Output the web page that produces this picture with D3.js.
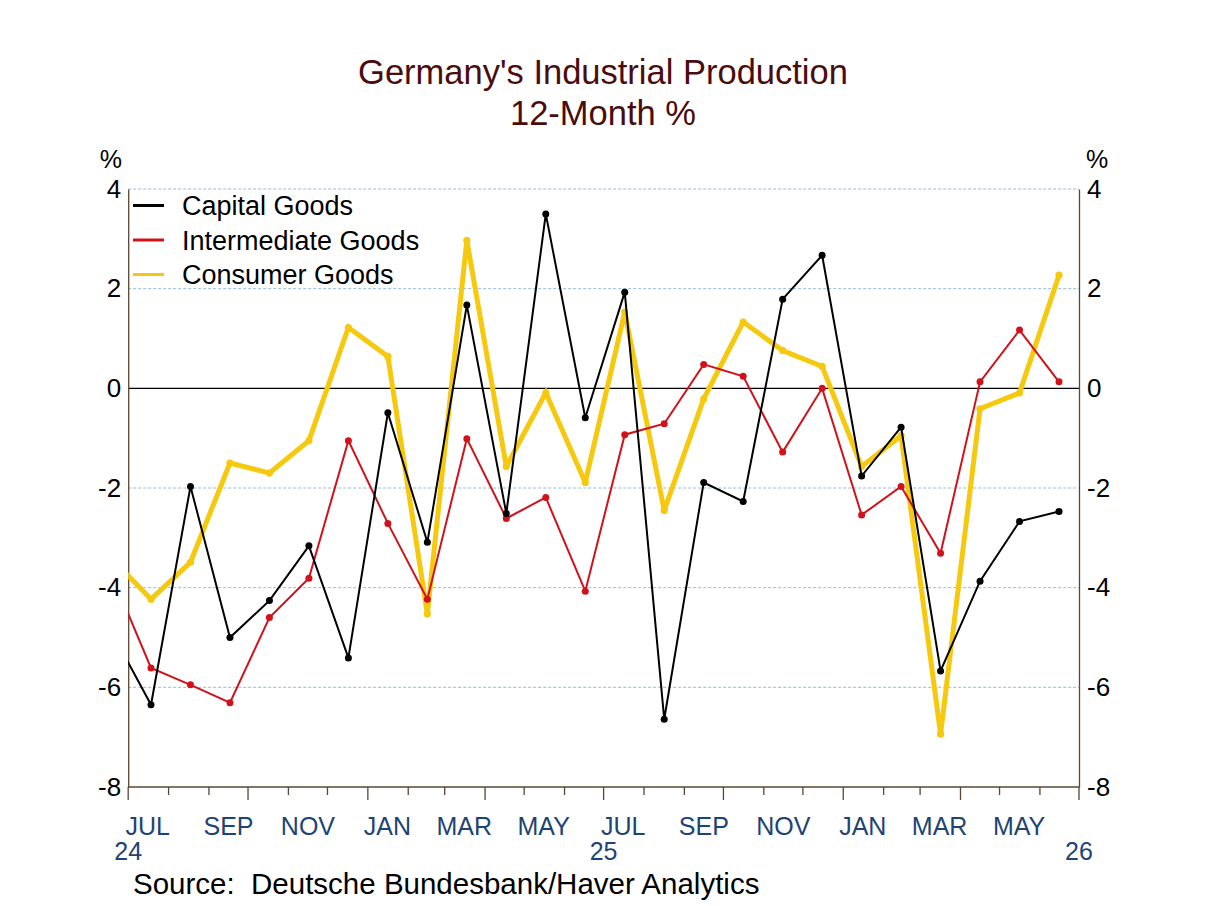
<!DOCTYPE html>
<html>
<head>
<meta charset="utf-8">
<script src="https://cdn.jsdelivr.net/npm/d3@7/dist/d3.min.js"></script>
<style>
  html, body { margin: 0; padding: 0; background: #fff; }
  svg { display: block; font-family: "Liberation Sans", Arial, sans-serif; }
</style>
</head>
<body>
<svg id="chart" width="1208" height="906"></svg>
<script>
// ---- data ----
const months = ["2024-06","2024-07","2024-08","2024-09","2024-10","2024-11","2024-12",
  "2025-01","2025-02","2025-03","2025-04","2025-05","2025-06","2025-07","2025-08","2025-09","2025-10","2025-11","2025-12",
  "2026-01","2026-02","2026-03","2026-04","2026-05","2026-06"];
const capitalGoods = [-4.88, -6.35, -1.97, -5.00, -4.26, -3.16, -5.41,
  -0.49, -3.09, 1.67, -2.51, 3.50, -0.59, 1.93, -6.64, -1.89, -2.27, 1.79, 2.67,
  -1.76, -0.78, -5.67, -3.87, -2.67, -2.47];
const intermediateGoods = [-3.73, -5.61, -5.95, -6.31, -4.60, -3.81, -1.05,
  -2.71, -4.23, -1.01, -2.61, -2.19, -4.07, -0.93, -0.71, 0.48, 0.24, -1.28, 0.00,
  -2.54, -1.97, -3.31, 0.13, 1.17, 0.13];
const consumerGoods = [-3.41, -4.23, -3.49, -1.50, -1.70, -1.05, 1.22,
  0.64, -4.53, 2.97, -1.57, -0.09, -1.89, 1.53, -2.45, -0.21, 1.33, 0.76, 0.44,
  -1.57, -0.95, -6.94, -0.41, -0.09, 2.27];
const seriesNames = ["Capital Goods", "Intermediate Goods", "Consumer Goods"];
const seriesColors = ["#000000", "#d0121b", "#f6c90e"];
const yTicks = [4, 2, 0, -2, -4, -6, -8];
const monthLabels = ["JAN","FEB","MAR","APR","MAY","JUN","JUL","AUG","SEP","OCT","NOV","DEC"];
const yearLabels = ["24", "25", "26"];
const titleLines = ["Germany's Industrial Production", "12-Month %"];
const sourceText = "Source:  Deutsche Bundesbank/Haver Analytics";

// ---- layout ----
const svg = d3.select("#chart");
const L = 128.2, R = 1079, T = 189, B = 787;
const x = d3.scaleUtc().domain([new Date(Date.UTC(2024, 6, 1)), new Date(Date.UTC(2026, 6, 1))]).range([L, R]);
// observation positions: evenly spaced, one per month (index 0 = Jul 2024)
const xObs = d3.scaleLinear().domain([0, 23]).range([151, 1059]);
const monthIndex = s => { const [yy, mm] = s.split("-").map(Number); return (yy - 2024) * 12 + (mm - 7); };
const y = d3.scaleLinear().domain([-8, 4]).range([B, T]);
const axisColor = "#5a4632";
const labelBlue = "#1d4473";

// title
svg.append("g").selectAll("text").data(titleLines).join("text")
  .attr("x", 603).attr("y", (d, i) => 84 + i * 41)
  .attr("text-anchor", "middle").attr("font-size", 34.5).attr("fill", "#4a0c0c")
  .text(d => d);

// gridlines
svg.append("g").selectAll("line").data(yTicks.filter(v => v !== 0 && v !== -8)).join("line")
  .attr("x1", L).attr("x2", R).attr("y1", d => y(d)).attr("y2", d => y(d))
  .attr("stroke", "#93bccf").attr("stroke-width", 1).attr("stroke-dasharray", "3,2");

// zero line
svg.append("line").attr("x1", L).attr("x2", R).attr("y1", y(0)).attr("y2", y(0))
  .attr("stroke", "#000").attr("stroke-width", 1.2);

// y axes
const fmt = d => String(d);
const yAxisL = d3.axisLeft(y).tickValues(yTicks).tickSize(0).tickPadding(7).tickFormat(fmt);
const gL = svg.append("g").attr("transform", `translate(${L},0)`).call(yAxisL);
const yAxisR = d3.axisRight(y).tickValues(yTicks).tickSize(0).tickPadding(8).tickFormat(fmt);
const gR = svg.append("g").attr("transform", `translate(${R},0)`).call(yAxisR);
[gL, gR].forEach(g => {
  g.select(".domain").attr("stroke", axisColor).attr("stroke-width", 1.3);
  g.selectAll("text").attr("font-size", 26).attr("fill", "#000").attr("font-family", "Liberation Sans, Arial, sans-serif");
});
svg.append("text").attr("x", 122).attr("y", 168).attr("text-anchor", "end").attr("font-size", 25).text("%");
svg.append("text").attr("x", 1086).attr("y", 168).attr("text-anchor", "start").attr("font-size", 25).text("%");

// x axis
const monthTicks = d3.utcMonth.range(x.domain()[0], d3.utcDay.offset(x.domain()[1], 1));
const gx = svg.append("g");
gx.append("line").attr("x1", L).attr("x2", R).attr("y1", B).attr("y2", B).attr("stroke", axisColor).attr("stroke-width", 1.3);
gx.selectAll("line.tick").data(monthTicks).join("line").attr("class", "tick")
  .attr("x1", d => x(d)).attr("x2", d => x(d)).attr("y1", B)
  .attr("y2", d => B + (d.getUTCMonth() % 3 === 0 ? 13 : 8))
  .attr("stroke", axisColor).attr("stroke-width", 1.3);
const labelMonths = monthTicks.filter(d => d < x.domain()[1] && d.getUTCMonth() % 2 === 0);
gx.selectAll("text.mlab").data(labelMonths).join("text").attr("class", "mlab")
  .attr("x", d => x(d3.utcDay.offset(d, 15))).attr("y", 835)
  .attr("text-anchor", "middle").attr("font-size", 25).attr("fill", labelBlue)
  .text(d => monthLabels[d.getUTCMonth()]);
const yearDates = yearLabels.map(s => new Date(Date.UTC(2000 + +s, 6, 1)));
gx.selectAll("text.ylab").data(yearDates).join("text").attr("class", "ylab")
  .attr("x", d => x(d)).attr("y", 860)
  .attr("text-anchor", "middle").attr("font-size", 25).attr("fill", labelBlue)
  .text((d, i) => yearLabels[i]);

// clip
svg.append("clipPath").attr("id", "plotclip").append("rect")
  .attr("x", L).attr("y", T - 20).attr("width", R - L).attr("height", B - T + 20);

const seriesData = [capitalGoods, intermediateGoods, consumerGoods];
const widths = [2, 2, 5];
const radii = [3.5, 3.5, 3.6];
const plot = svg.append("g").attr("clip-path", "url(#plotclip)");
const line = d3.line().x(d => xObs(d.idx)).y(d => y(d.value));
[2, 1, 0].forEach(si => {
  const pts = months.map((m, i) => ({ idx: monthIndex(m), value: seriesData[si][i] }));
  plot.append("path").datum(pts).attr("d", line).attr("fill", "none")
    .attr("stroke", seriesColors[si]).attr("stroke-width", widths[si]).attr("stroke-linejoin", "miter").attr("stroke-miterlimit", 3);
  plot.append("g").selectAll("circle").data(pts).join("circle")
    .attr("cx", d => xObs(d.idx)).attr("cy", d => y(d.value)).attr("r", radii[si])
    .attr("fill", seriesColors[si]);
});

// legend
const lg = svg.append("g");
seriesNames.forEach((n, i) => {
  const yy = 205.5 + i * 34.5;
  lg.append("line").attr("x1", 133).attr("x2", 164).attr("y1", yy).attr("y2", yy)
    .attr("stroke", seriesColors[i]).attr("stroke-width", 3);
  lg.append("text").attr("x", 182).attr("y", yy + 9.5).attr("font-size", 27).attr("fill", "#000").text(n);
});

// source
svg.append("text").attr("x", 133).attr("y", 894).attr("font-size", 29.5).attr("fill", "#000")
  .attr("xml:space", "preserve").style("white-space", "pre").text(sourceText);
</script>
</body>
</html>
